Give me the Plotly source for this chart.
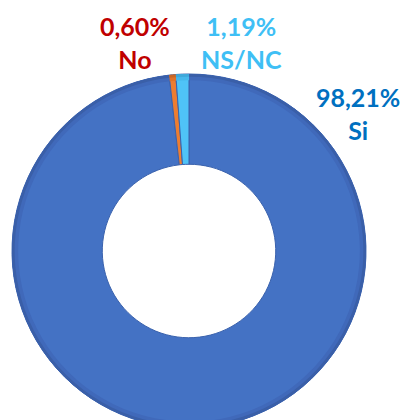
import plotly.graph_objects as go

labels = ["Si", "No", "NS/NC"]
values = [98.21, 0.60, 1.19]
text_labels = ["98,21%<br>Si", "0,60%<br>No", "1,19%<br>NS/NC"]
slice_colors = ["#4472C4", "#ED7D31", "#4FC3F7"]
rim_colors_mid = ["#4069BA", "#DF722A", "#47B8EC"]
rim_colors_dark = ["#3A5FA8", "#C96624", "#3FA8DA"]
label_colors = ["#0070C0", "#C00000", "#3FBFF5"]
# label block centres in figure pixels (x from left, y from top)
label_pos = [(350, 105), (127, 34), (233, 34)]

W, H = 408, 420
dom = dict(x=[4 / W, 358 / W], y=[0, 354 / H])


def ring(colors, hole, line_w):
    return go.Pie(
        labels=labels, values=values, sort=False, direction="clockwise", rotation=0,
        hole=hole, textinfo="none", hoverinfo="label+percent",
        marker=dict(colors=colors, line=dict(color="#3A62AD", width=line_w)),
        domain=dom, showlegend=False,
    )


fig = go.Figure()
fig.add_trace(ring(slice_colors, 0.49, 1))
fig.add_trace(ring(rim_colors_mid, 0.965, 0))
fig.add_trace(ring(rim_colors_dark, 0.985, 0))
for t, c, (px, py) in zip(text_labels, label_colors, label_pos):
    fig.add_annotation(x=px / W, y=1 - py / H, xref="paper", yref="paper",
                       xanchor="center", yanchor="middle",
                       text=t, showarrow=False, align="center",
                       font=dict(family="Lato", size=25, color=c, weight="bold"))
fig.update_layout(width=W, height=H, margin=dict(l=0, r=0, t=0, b=0),
                  paper_bgcolor="white", plot_bgcolor="white")
fig.write_html("out.html")
